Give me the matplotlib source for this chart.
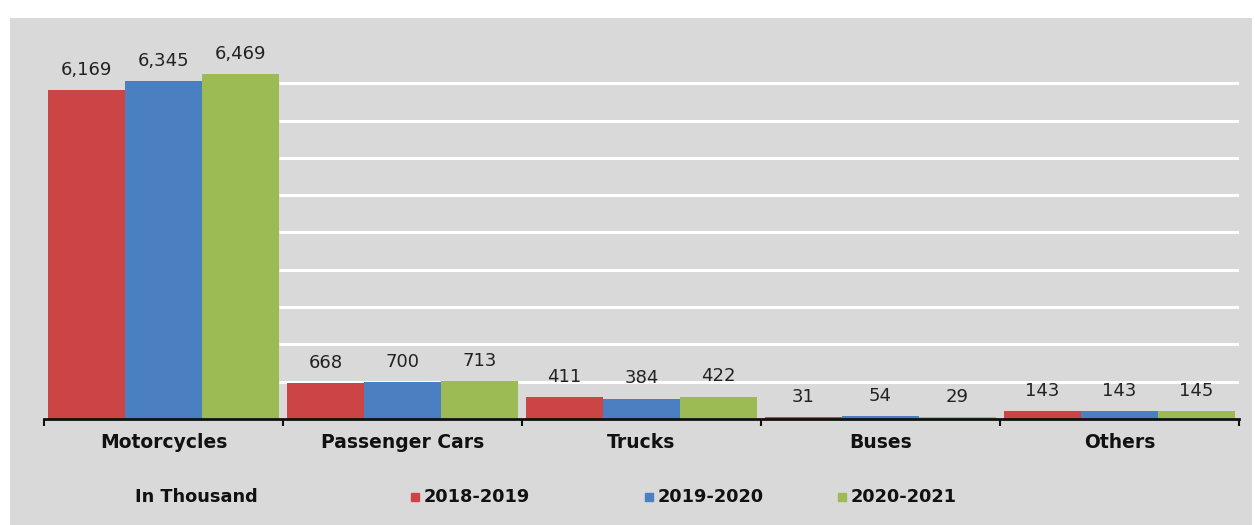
import matplotlib
matplotlib.use("Agg")
import matplotlib.pyplot as plt
import numpy as np
from matplotlib.patches import Rectangle
from matplotlib.lines import Line2D

categories = ["Motorcycles", "Passenger Cars", "Trucks", "Buses", "Others"]
series_names = ["2018-2019", "2019-2020", "2020-2021"]
v2018 = [6169, 668, 411, 31, 143]
v2019 = [6345, 700, 384, 54, 143]
v2020 = [6469, 713, 422, 29, 145]
unit_note = "In Thousand"

colors = ["#cc4545", "#4a7fc1", "#9cbb55"]
series = [v2018, v2019, v2020]

plt.rcParams['font.family'] = ['DejaVu Sans']

W, H = 1255, 525
fig = plt.figure(figsize=(W / 100, H / 100), dpi=100)
fig.patch.set_facecolor("white")

# gray panel
fig.patches.append(Rectangle((10 / W, 0), (1252 - 10) / W, (H - 18) / H,
                             transform=fig.transFigure, facecolor="#d9d9d9",
                             edgecolor="none", zorder=-10))

ax_left, ax_right = 44 / W, 1239 / W
ax_bottom, ax_top = (H - 419) / H, (H - 46) / H
ax = fig.add_axes([ax_left, ax_bottom, ax_right - ax_left, ax_top - ax_bottom])
ax.set_facecolor("none")

n = len(categories)
x = np.arange(n)
bw = 0.322
offsets = [-bw, 0, bw]
ax.set_xlim(-0.5, n - 0.5)
ax.set_ylim(0, 7000)

# gridlines (white), hidden behind first group as in reference
grid_vals = np.arange(700, 7000, 700)
ax.hlines(grid_vals, 1.5 * bw, n - 0.5, colors="white", linewidth=2.2, zorder=0)

for vals, off, c in zip(series, offsets, colors):
    ax.bar(x + off, vals, width=bw, color=c, zorder=2)
    for xi, v in zip(x + off, vals):
        ax.annotate(f"{v:,}", (xi, v), xytext=(0, 8), textcoords="offset points",
                    ha="center", va="bottom", fontsize=13, color="#222222")

for s in ["top", "right", "left"]:
    ax.spines[s].set_visible(False)
ax.spines["bottom"].set_linewidth(2)
ax.spines["bottom"].set_color("#111111")
ax.set_yticks([])
ax.set_xticks(np.arange(n + 1) - 0.5)
ax.set_xticklabels([])
ax.tick_params(axis="x", length=5, width=1.5, color="#111111")
ax.set_xticks(x, minor=True)
ax.set_xticklabels(categories, minor=True, fontsize=13.5, fontweight="bold", color="#111111")
ax.tick_params(axis="x", which="minor", length=0, pad=10)

# legend row
ly = 1 - 497 / H
fig.text(196 / W, ly, unit_note, ha="center", va="center", fontsize=12.8, fontweight="bold", color="#111111")
marker_x = [415, 649, 842]
for name, c, mx in zip(series_names, colors, marker_x):
    fig.add_artist(Line2D([mx / W], [ly], marker="s", markersize=6, color=c,
                          linestyle="none", transform=fig.transFigure))
    fig.text((mx + 9) / W, ly, name, ha="left", va="center", fontsize=12.8,
             fontweight="bold", color="#111111")

fig.savefig("out.png", dpi=100, facecolor=fig.get_facecolor())
